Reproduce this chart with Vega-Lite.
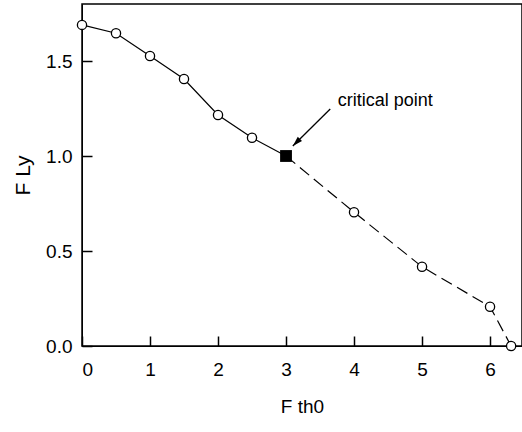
{
  "$schema": "https://vega.github.io/schema/vega-lite/v6.json",
  "width": 440,
  "height": 342,
  "autosize": "none",
  "padding": {"left": 82, "top": 4, "right": 0, "bottom": 86},
  "background": "white",
  "config": {"view": {"stroke": "black", "strokeWidth": 1.5}, "font": "Liberation Sans"},
  "datasets": {
    "pts": [
      {"x": 0, "y": 1.69, "kind": "open"},
      {"x": 0.5, "y": 1.646, "kind": "open"},
      {"x": 1, "y": 1.526, "kind": "open"},
      {"x": 1.5, "y": 1.405, "kind": "open"},
      {"x": 2, "y": 1.216, "kind": "open"},
      {"x": 2.5, "y": 1.096, "kind": "open"},
      {"x": 3, "y": 1.0, "kind": "critical"},
      {"x": 4, "y": 0.704, "kind": "open"},
      {"x": 5, "y": 0.417, "kind": "open"},
      {"x": 6, "y": 0.207, "kind": "open"},
      {"x": 6.31, "y": 0.0, "kind": "open"}
    ],
    "arrow": [{"x": 3.65, "y": 1.247, "x2": 3.1, "y2": 1.053}],
    "note": [{"x": 3.76, "y": 1.263, "label": "critical point"}]
  },
  "layer": [
    {
      "data": {"name": "pts"},
      "transform": [{"filter": "datum.x <= 3"}],
      "mark": {"type": "line", "color": "black", "strokeWidth": 1.2},
      "encoding": {
        "x": {"field": "x", "type": "quantitative",
          "scale": {"domain": [0, 6.47], "nice": false, "zero": false},
          "axis": {"values": [0, 1, 2, 3, 4, 5, 6], "format": "d",
            "tickSize": -10, "tickColor": "black", "tickWidth": 1.5, "domainColor": "black",
            "labelFontSize": 19, "labelColor": "black", "labelPadding": 24, "grid": false,
            "title": "F th0", "titleFontSize": 19, "titleFontWeight": "normal", "titleColor": "black", "titlePadding": 18}},
        "y": {"field": "y", "type": "quantitative",
          "scale": {"domain": [0, 1.8], "nice": false, "zero": false},
          "axis": {"values": [0, 0.5, 1, 1.5], "format": ".1f",
            "tickSize": -10, "tickColor": "black", "tickWidth": 1.5, "domainColor": "black",
            "labelFontSize": 19, "labelColor": "black", "labelPadding": 20, "grid": false,
            "title": "F Ly", "titleFontSize": 21, "titleFontWeight": "normal", "titleColor": "black", "titlePadding": 12}}
      }
    },
    {
      "data": {"name": "pts"},
      "transform": [{"filter": "datum.x >= 3"}],
      "mark": {"type": "line", "color": "black", "strokeWidth": 1.2, "strokeDash": [12, 6]},
      "encoding": {
        "x": {"field": "x", "type": "quantitative"},
        "y": {"field": "y", "type": "quantitative"}
      }
    },
    {
      "data": {"name": "pts"},
      "transform": [{"filter": "datum.kind == 'open'"}],
      "mark": {"type": "point", "shape": "circle", "size": 85, "filled": true, "fill": "white", "stroke": "black", "strokeWidth": 1.3, "opacity": 1, "clip": false},
      "encoding": {
        "x": {"field": "x", "type": "quantitative"},
        "y": {"field": "y", "type": "quantitative"}
      }
    },
    {
      "data": {"name": "pts"},
      "transform": [{"filter": "datum.kind == 'critical'"}],
      "mark": {"type": "point", "shape": "square", "size": 140, "filled": true, "color": "black", "opacity": 1},
      "encoding": {
        "x": {"field": "x", "type": "quantitative"},
        "y": {"field": "y", "type": "quantitative"}
      }
    },
    {
      "data": {"name": "arrow"},
      "mark": {"type": "rule", "color": "black", "strokeWidth": 1.3},
      "encoding": {
        "x": {"field": "x", "type": "quantitative"},
        "y": {"field": "y", "type": "quantitative"},
        "x2": {"field": "x2"},
        "y2": {"field": "y2"}
      }
    },
    {
      "data": {"name": "arrow"},
      "mark": {"type": "point", "shape": "M0,0 L0.6,2 L-0.6,2 Z", "size": 100, "filled": true, "color": "black", "opacity": 1, "angle": 225},
      "encoding": {
        "x": {"field": "x2", "type": "quantitative"},
        "y": {"field": "y2", "type": "quantitative"}
      }
    },
    {
      "data": {"name": "note"},
      "mark": {"type": "text", "align": "left", "baseline": "alphabetic", "fontSize": 18, "font": "Liberation Sans", "color": "black"},
      "encoding": {
        "x": {"field": "x", "type": "quantitative"},
        "y": {"field": "y", "type": "quantitative"},
        "text": {"field": "label"}
      }
    }
  ]
}
